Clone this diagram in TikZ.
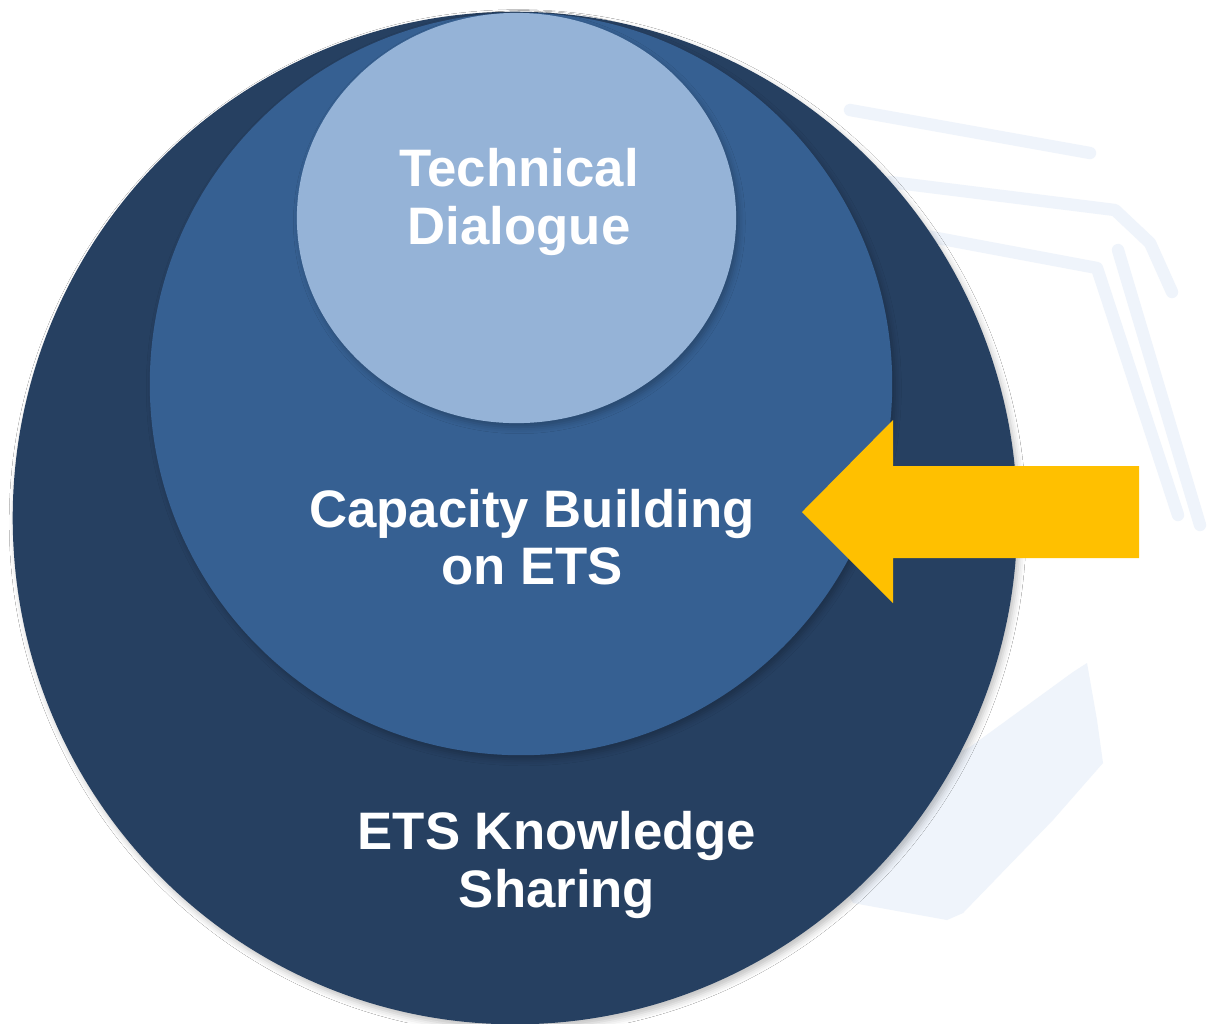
\documentclass[tikz,border=0pt]{standalone}
\usepackage{fontspec}
\setmainfont{Liberation Sans}
\usetikzlibrary{shapes.geometric,shadows.blur}

\definecolor{outerblue}{RGB}{38,64,97}
\definecolor{midblue}{RGB}{54,96,146}
\definecolor{innerblue}{RGB}{149,179,215}
\definecolor{arrowyellow}{RGB}{255,192,0}
\definecolor{wmblue}{RGB}{239,244,251}

\begin{document}
\begin{tikzpicture}[x=0.01cm, y=-0.01cm,
  ring/.style={ellipse, inner sep=0pt, draw=none,
    blur shadow={shadow xshift=0.8pt, shadow yshift=-1.2pt, shadow blur radius=1.8pt, shadow opacity=25}},
  lbl/.style={align=center, text=white, inner sep=0pt, font=\fontsize{15}{16.3}\selectfont\bfseries},
  wmark/.style={draw=wmblue, line width=3.5pt, line join=round, line cap=round}]
\useasboundingbox (0,0) rectangle (1212,1023);
\fill[white] (0,0) rectangle (1212,1023);

% faint logo behind the rings
\draw[wmark] (850,110) -- (1090,153);
\draw[wmark] (890,182) -- (1115,210) -- (1150,243) -- (1172,292);
\draw[wmark] (905,232) -- (1097,268) -- (1178,515);
\draw[wmark] (1118,250) -- (1200,525);
\fill[wmblue] (853,903) -- (947,920) -- (963,913) -- (1053,820) -- (1103,763) -- (1097,720)
  -- (1087,663) -- (1073,672) -- (970,747) -- (900,780) -- (840,880) -- cycle;

\node[ring, fill=outerblue, minimum width=10.04cm, minimum height=10.12cm] (O) at (515,518) {};
\node[ring, fill=midblue, minimum width=7.42cm, minimum height=7.42cm] (M) at (521,384) {};
\node[ring, fill=innerblue, minimum width=4.39cm, minimum height=4.10cm] (I) at (516.5,218) {};

\node[lbl] (label1) at (519,202) {Technical\\Dialogue};
\node[lbl] (label2) at (532,537) {Capacity Building\\on ETS};
\node[lbl] (label3) at (557,865) {ETS Knowledge\\Sharing};

% block arrow
\fill[arrowyellow] (802,512) -- (893,420) -- (893,466) -- (1139,466) -- (1139,558)
  -- (893,558) -- (893,603) -- cycle;
\end{tikzpicture}
\end{document}
